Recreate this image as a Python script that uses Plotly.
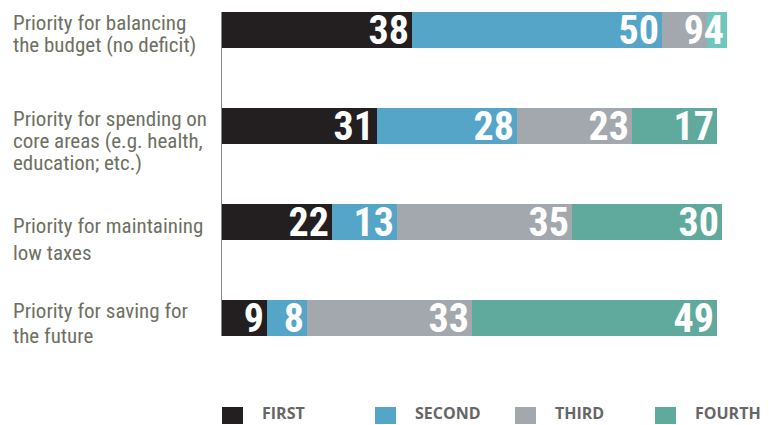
import plotly.graph_objects as go

# ---- data ----
label_lines = [
    ["Priority for balancing", "the budget (no deficit)"],
    ["Priority for spending on", "core areas (e.g. health,", "education; etc.)"],
    ["Priority for maintaining", "low taxes"],
    ["Priority for saving for", "the future"],
]
series_names = ["FIRST", "SECOND", "THIRD", "FOURTH"]
first = [38, 31, 22, 9]
second = [50, 28, 13, 8]
third = [9, 23, 35, 33]
fourth = [4, 17, 30, 49]

# ---- style ----
W, H = 769, 425
ML, MR, MT, MB = 222, 22, 12, 89
PW, PH = W - ML - MR, H - MT - MB
colors = {
    "FIRST": ["#231f20"] * 4,
    "SECOND": ["#55a5c9"] * 4,
    "THIRD": ["#a3a8ae"] * 4,
    "FOURTH": ["#6ec7bd", "#5faa9d", "#5faa9d", "#5faa9d"],
}
legend_colors = ["#231f20", "#55a5c9", "#a3a8ae", "#5faa9d"]
label_font = "Roboto Condensed"
label_color = "#6d7062"

rows = list(range(len(label_lines)))
values = [first, second, third, fourth]

fig = go.Figure()
for name, vals in zip(series_names, values):
    fig.add_trace(go.Bar(
        x=vals, y=rows, orientation="h", name=name,
        width=0.375,
        marker=dict(color=colors[name], line=dict(width=0)),
        text=[str(v) for v in vals],
        textposition="inside", insidetextanchor="end",
        constraintext="none", textangle=0,
        textfont=dict(family="Roboto Condensed", size=40, color="white", weight="bold"),
        hoverinfo="skip", showlegend=False,
    ))

def px_x(px):
    return (px - ML) / PW

def px_y(py):
    return (H - MB - py) / PH

# category labels (left-aligned, one annotation per line)
row_offsets = [-7, -7.5, 3.5, -7]
row_pitch = [22, 22, 27, 25]
annotations = []
for i, lines in enumerate(label_lines):
    for j, line in enumerate(lines):
        annotations.append(dict(
            x=px_x(11), xref="paper", xanchor="left",
            y=i, yref="y", yanchor="middle",
            yshift=-(row_offsets[i] + j * row_pitch[i]),
            text=line, showarrow=False,
            font=dict(family=label_font, size=21, color=label_color),
        ))

# legend
legend_x = [222, 375, 515, 655]
shapes = []
for name, c, lx in zip(series_names, legend_colors, legend_x):
    shapes.append(dict(type="rect", xref="paper", yref="paper",
                       x0=px_x(lx), x1=px_x(lx + 21), y0=px_y(424), y1=px_y(407),
                       fillcolor=c, line=dict(width=0)))
    annotations.append(dict(
        x=px_x(lx + 39), xref="paper", xanchor="left",
        y=px_y(413), yref="paper", yanchor="middle",
        text=name, showarrow=False, borderpad=0,
        font=dict(family="Open Sans", size=16, color="#666666", weight="bold"),
    ))

fig.update_layout(
    width=W, height=H,
    margin=dict(l=ML, r=MR, t=MT, b=MB),
    plot_bgcolor="white", paper_bgcolor="white",
    barmode="stack",
    xaxis=dict(range=[0, 105], visible=False, fixedrange=True),
    yaxis=dict(range=[3.1875, -0.1875], showline=True, linecolor="#8a8a80",
               linewidth=1, showticklabels=False, ticks="", showgrid=False,
               zeroline=False, fixedrange=True),
    annotations=annotations, shapes=shapes,
)
fig.write_html("out.html", config={"displayModeBar": False},
               post_script="document.body.style.margin='0'")
